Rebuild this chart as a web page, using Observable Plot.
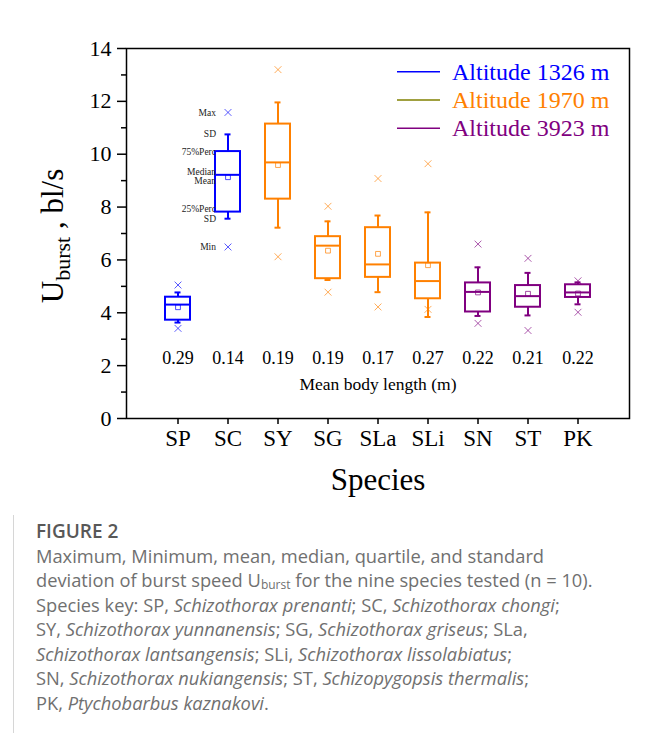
<!DOCTYPE html>
<html><head><meta charset="utf-8">
<script src="https://cdn.jsdelivr.net/npm/d3@7"></script>
<script src="https://cdn.jsdelivr.net/npm/@observablehq/plot@0.6"></script>
<style>
body{margin:0;background:#fff;width:654px;height:733px;overflow:hidden;position:relative}
#card{position:absolute;left:13px;top:5px;width:660px;height:760px;border-left:1px solid #d6d6d6;border-top:1px solid #d6d6d6}
#chart{position:absolute;left:0;top:0}
#cap{position:absolute;left:36px;top:519px;width:615px;font-family:"Open Sans",sans-serif;color:#707070;font-size:18.3px;line-height:24.5px;white-space:nowrap}
#cap .fig{font-weight:600;color:#585858;font-size:19px}
#cap sub{font-size:12px;line-height:0;vertical-align:-2px}
</style></head>
<body>
<div id="card"></div>
<div id="chart"></div>
<div id="cap"><div class="fig">FIGURE 2</div>Maximum, Minimum, mean, median, quartile, and standard<br>deviation of burst speed U<sub>burst</sub> for the nine species tested (n = 10).<br>Species key: SP, <i>Schizothorax prenanti</i>; SC, <i>Schizothorax chongi</i>;<br>SY, <i>Schizothorax yunnanensis</i>; SG, <i>Schizothorax griseus</i>; SLa,<br><i>Schizothorax lantsangensis</i>; SLi, <i>Schizothorax lissolabiatus</i>;<br>SN, <i>Schizothorax nukiangensis</i>; ST, <i>Schizopygopsis thermalis</i>;<br>PK, <i>Ptychobarbus kaznakovi</i>.</div>
<script>
const species   = ["SP","SC","SY","SG","SLa","SLi","SN","ST","PK"];
const altitude  = [1326,1326,1970,1970,1970,1970,3923,3923,3923];
const maxV      = [5.05,11.58,13.20,8.03,9.08,9.64,6.60,6.06,5.21];
const sdHigh    = [4.77,10.75,11.96,7.46,7.68,7.80,5.72,5.51,5.15];
const q3        = [4.59,10.10,11.14,6.88,7.22,5.88,5.13,5.03,5.06];
const median    = [4.31,9.22,9.69,6.54,5.83,5.20,4.79,4.63,4.77];
const meanV     = [4.21,9.13,9.59,6.35,6.23,5.80,4.77,4.72,4.73];
const q1        = [3.72,7.81,8.30,5.29,5.34,4.53,4.03,4.21,4.58];
const sdLow     = [3.63,7.56,7.22,5.24,4.78,3.84,3.88,3.90,4.32];
const minV      = [3.41,6.49,6.12,4.78,4.22,4.13,3.60,3.33,4.02];
const bodyLength = ["0.29","0.14","0.19","0.19","0.17","0.27","0.22","0.21","0.22"];

const altitudeGroups = [1326,1970,3923];
const groupColors = ["#0000ff","#ff8000","#800080"];
const legendLabels = ["Altitude 1326 m","Altitude 1970 m","Altitude 3923 m"];
const legendLineColors = ["#0000ff","#808000","#800080"];

const yMajor = [0,2,4,6,8,10,12,14];
const yMinor = [1,3,5,7,9,11,13];

// annotation on SC box
const annotLabels = ["Max","SD","75%Perc","Median","Mean","25%Perc","SD","Min"];
const annotStats  = ["max","sdHigh","q3","median","mean","q1","sdLow","min"];
const annotAnchor = ["middle","middle","middle","bottom","top","bottom","middle","middle"];

const rows = species.map((s,i)=>({s, alt:altitude[i], max:maxV[i], sdHigh:sdHigh[i], q3:q3[i],
  median:median[i], mean:meanV[i], q1:q1[i], sdLow:sdLow[i], min:minV[i], len:bodyLength[i]}));
const sc = rows.find(r=>r.s==="SC");
const annots = annotLabels.map((l,i)=>({s:"SC", label:l, v:sc[annotStats[i]], anchor:annotAnchor[i]}));

const serif = "'Liberation Serif','Times New Roman',serif";
const W = 654, H = 515;

const chart = Plot.plot({
  width: W, height: H,
  marginLeft: 126, marginRight: 25, marginTop: 48, marginBottom: 97,
  style: {fontFamily: serif, color: "black", background: "white"},
  x: {type: "band", domain: species, paddingInner: 0.5, paddingOuter: 0.75},
  y: {domain: [0, 14]},
  color: {type: "ordinal", domain: altitudeGroups, range: groupColors},
  marks: [
    Plot.axisY({ticks: yMinor, tickSize: 5, tickFormat: () => "", label: null, strokeWidth: 1.5}),
    Plot.axisY({ticks: yMajor, tickSize: 9, tickPadding: 6, fontSize: 22, label: null, strokeWidth: 1.5}),
    Plot.axisX({tickSize: 6, tickPadding: 5, fontSize: 23, label: null, strokeWidth: 1.5}),
    Plot.ruleX(rows, {x: "s", y1: "q3", y2: "sdHigh", stroke: "alt", strokeWidth: 2}),
    Plot.ruleX(rows, {x: "s", y1: "sdLow", y2: "q1", stroke: "alt", strokeWidth: 2}),
    Plot.tickY(rows, {x: "s", y: "sdHigh", stroke: "alt", strokeWidth: 2, insetLeft: 9.5, insetRight: 9.5}),
    Plot.tickY(rows, {x: "s", y: "sdLow", stroke: "alt", strokeWidth: 2, insetLeft: 9.5, insetRight: 9.5}),
    Plot.barY(rows, {x: "s", y1: "q1", y2: "q3", fill: "white", stroke: "alt", strokeWidth: 2}),
    Plot.tickY(rows, {x: "s", y: "median", stroke: "alt", strokeWidth: 2}),
    Plot.dot(rows, {x: "s", y: "mean", symbol: "square", r: 2.7, stroke: "alt", strokeWidth: 1, strokeOpacity: 0.7}),
    Plot.dot(rows, {x: "s", y: "max", symbol: "times", r: 3.2, stroke: "alt", strokeWidth: 1, strokeOpacity: 0.65}),
    Plot.dot(rows, {x: "s", y: "min", symbol: "times", r: 3.2, stroke: "alt", strokeWidth: 1, strokeOpacity: 0.65}),
    Plot.text(rows, {x: "s", text: "len", frameAnchor: "bottom", dy: -55, fontSize: 18, fill: "black"}),
    Plot.text(["Mean body length (m)"], {text: d => d, frameAnchor: "bottom", dy: -29, fontSize: 17.5, fill: "black"}),
    Plot.text(["Species"], {text: d => d, frameAnchor: "bottom", dy: 71, fontSize: 31, fill: "black"}),
    ...["middle","bottom","top"].map(a => Plot.text(annots.filter(d => d.anchor === a),
      {x: "s", y: "v", text: "label", textAnchor: "end", lineAnchor: a, dx: -12, fontSize: 9.5, fill: "#222"})),
    Plot.frame({strokeWidth: 1.5})
  ]
});
document.getElementById("chart").appendChild(chart);

const svg = d3.select(chart);
// y-axis title with subscript
const yt = svg.append("text")
  .attr("transform", "translate(63,236) rotate(-90)")
  .attr("text-anchor", "middle")
  .attr("font-family", serif).attr("fill", "black");
yt.append("tspan").attr("font-size", 31).text("U");
yt.append("tspan").attr("font-size", 22).attr("dy", 7).text("burst");
yt.append("tspan").attr("font-size", 31).attr("dy", -7).text(" , bl/s");

// legend
const lg = svg.append("g").attr("font-family", serif).attr("text-anchor", "start");
legendLabels.forEach((t, i) => {
  const y = 71.7 + 28.3 * i;
  lg.append("line").attr("x1", 397).attr("x2", 440).attr("y1", y).attr("y2", y)
    .attr("stroke", legendLineColors[i]).attr("stroke-width", 1.5);
  lg.append("text").attr("x", 452).attr("y", y + 8).attr("font-size", 24)
    .attr("text-anchor", "start").attr("fill", groupColors[i]).text(t);
});
</script>
</body></html>
